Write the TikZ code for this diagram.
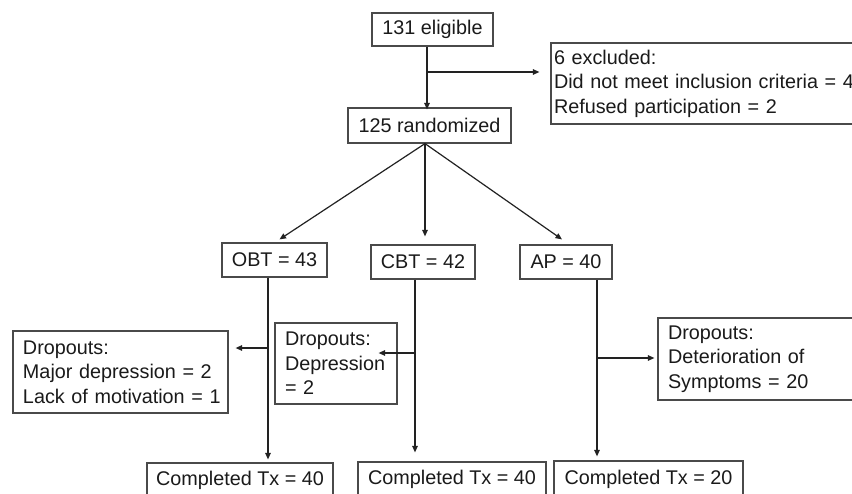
\documentclass[tikz,border=0pt]{standalone}
\usepackage{fontspec}
\setmainfont{Liberation Sans}
\usetikzlibrary{arrows.meta,calc}
\definecolor{boxc}{HTML}{4A4A4A}
\definecolor{linec}{HTML}{222222}
\definecolor{txt}{HTML}{1A1A1A}
\begin{document}
\begin{tikzpicture}[x=1pt,y=-1pt,
  box/.style={draw=boxc, line width=1.2pt, text=txt, font=\fontsize{19.8}{24.5}\selectfont, inner sep=0pt},
  lbox/.style={box, align=left, inner xsep=10pt, inner ysep=0pt, text width=#1},
  arr/.style={draw=linec, line width=1.2pt, -{Triangle[length=6.5pt,width=5.5pt]}}]
\useasboundingbox (0,0) rectangle (852,493);
\clip (0,0) rectangle (852,493);
\fill[white] (0,0) rectangle (852,493);
% boxes
\node[box, minimum width=121pt, minimum height=33pt] (elig) at (432.5,29.5) {131 eligible};
\node[box, minimum width=163pt, minimum height=35pt] (rand) at (429.5,125.5) {125 randomized};
\node[lbox=323pt, inner xsep=3pt, minimum width=329pt, minimum height=81pt] (excl) at (715.5,83.5)
  {\mbox{6 excluded:}\\\mbox{Did not meet inclusion criteria = 4}\\\mbox{Refused participation = 2}};
\node[box, minimum width=105pt, minimum height=34pt] (OBT) at (274.5,260) {OBT = 43};
\node[box, minimum width=104pt, minimum height=34pt] (CBT) at (423,262) {CBT = 42};
\node[box, minimum width=92pt, minimum height=34pt] (AP) at (566,262) {AP = 40};
\node[lbox=195pt, minimum width=215pt, minimum height=82pt] (dropOBT) at (120.5,372)
  {\mbox{Dropouts:}\\\mbox{Major depression = 2}\\\mbox{Lack of motivation = 1}};
\node[lbox=102pt, minimum width=122pt, minimum height=81pt] (dropCBT) at (336,363.5)
  {\mbox{Dropouts:}\\\mbox{Depression}\\\mbox{= 2}};
\node[lbox=202pt, minimum width=222pt, minimum height=82pt] (dropAP) at (769,359)
  {\mbox{Dropouts:}\\\mbox{Deterioration of}\\\mbox{Symptoms = 20}};
\node[box, minimum width=186pt, minimum height=34pt] (compOBT) at (240,480) {Completed Tx = 40};
\node[box, minimum width=188pt, minimum height=35pt] (compCBT) at (452,479.5) {Completed Tx = 40};
\node[box, minimum width=189pt, minimum height=36pt] (compAP) at (648.5,479) {Completed Tx = 20};
% connectors
\coordinate (e1) at (427,72);
\draw[arr] (e1 |- elig.south) -- ([yshift=-2pt]e1 |- rand.north);
\draw[arr, shorten >=11pt] (e1) -- (e1 -| excl.west);
\coordinate (r0) at ([xshift=-4.5pt]rand.south);
\draw[arr] (r0) -- ([xshift=5pt,yshift=3pt]OBT.north);
\draw[arr] (r0) -- ([yshift=8pt]r0 |- CBT.north);
\draw[arr] (r0) -- ([xshift=-4pt,yshift=5pt]AP.north);
\coordinate (o1) at (268,348);
\draw[arr] (o1 |- OBT.south) -- ([yshift=3pt]o1 |- compOBT.north);
\draw[arr, shorten >=7pt] (o1) -- (o1 -| dropOBT.east);
\coordinate (c1) at (415,353);
\draw[arr] (c1 |- CBT.south) -- ([yshift=9pt]c1 |- compCBT.north);
\draw[arr] (c1) -- ([xshift=-19pt]c1 -| dropCBT.east);
\coordinate (a1) at (597,358);
\draw[arr] (a1 |- AP.south) -- ([yshift=4pt]a1 |- compAP.north);
\draw[arr, shorten >=3pt] (a1) -- (a1 -| dropAP.west);
\end{tikzpicture}
\end{document}
